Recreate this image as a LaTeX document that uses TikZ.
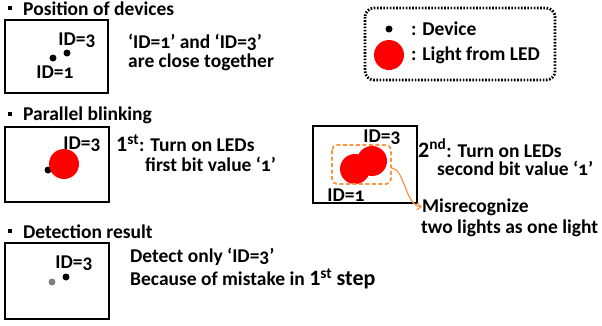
\documentclass[tikz,border=0pt]{standalone}
\usepackage{fontspec}
\setmainfont{Carlito}[Numbers=OldStyle]
\newfontfamily\linfont{Carlito}[Numbers=Lining]
\usetikzlibrary{arrows.meta}

\tikzset{
  devbox/.style={draw,line width=2.8pt},
  dev/.style={circle,fill=black,inner sep=0pt,minimum size=7pt},
  ghostdev/.style={circle,fill=gray,inner sep=0pt,minimum size=7pt},
  ledlight/.style={circle,fill=red,inner sep=0pt,minimum size=30pt},
  txt/.style={anchor=west,inner sep=0pt},
  idlabel/.style={inner sep=0pt},
}
\newcommand{\ordn}[2]{{\linfont\fontsize{22}{24}\selectfont #1\textsuperscript{#2}}}

\begin{document}
\begin{tikzpicture}[x=1pt,y=-1pt,font=\bfseries\fontsize{19.5}{22}\selectfont]
\definecolor{misorange}{RGB}{247,150,70}
\useasboundingbox (0,0) rectangle (602,325);

% position of devices
\fill (8,6) rectangle (12,10);
\node[txt] (title1) at (23,9) {Position of devices};
\draw[devbox] (5,20) rectangle (108,93);
\node[dev] (d1) at (53,58) {};
\node[dev] (d3) at (67,53) {};
\node[idlabel] (l3) at (77,40) {ID=3};
\node[idlabel] (l1) at (55,72) {ID=1};
\node[txt] (close1) at (128,42) {‘ID=1’ and ‘ID=3’};
\node[txt] (close2) at (128,62) {are close together};

% legend
\draw[line width=2.8pt,dash pattern=on 1.6pt off 1.6pt,rounded corners=9pt] (365,8) rectangle (555,80);
\node[dev] (legdev) at (389,29) {};
\node[ledlight] (leglight) at (389,55) {};
\node[txt] (legdevtxt) at (411,29) {: Device};
\node[txt] (leglighttxt) at (411,55) {: Light from LED};

% parallel blinking
\fill (8,112) rectangle (12,116);
\node[txt] (title2) at (23,115) {Parallel blinking};
\draw[devbox] (5,127) rectangle (109,202);
\node[dev] (b1) at (48,170) {};
\node[ledlight] (bl3) at (64,164) {};
\node[idlabel] (bl3txt) at (82,144) {ID=3};
\node[txt] (step1a) at (116,143) {\ordn{1}{st}: Turn on LEDs};
\node[txt] (step1b) at (145,164) {first bit value ‘1’};

\draw[devbox] (313,126) rectangle (417,203);
\node[ledlight] (c1) at (355,169) {};
\node[ledlight] (c3) at (372,161) {};
\node[idlabel] (c3txt) at (382,137) {ID=3};
\node[idlabel] (c1txt) at (346,195) {ID=1};
\draw[misorange,line width=1.8pt,dash pattern=on 4pt off 2.5pt,rounded corners=5pt] (332,145) rectangle (391,184);
\coordinate (blob) at (392,168);
\node[txt] (step2a) at (418,148) {\ordn{2}{nd}: Turn on LEDs};
\node[txt] (step2b) at (437,168) {second bit value ‘1’};
\node[txt] (mis1) at (422,207) {Misrecognize};
\node[txt] (mis2) at (421,228) {two lights as one light};
\draw[misorange,line width=1.2pt,-{Straight Barb[length=4pt,width=7pt]}] (blob) .. controls (405,170) and (405,205) .. (mis1.west);

% detection result
\fill (8,229) rectangle (12,233);
\node[txt] (title3) at (23,232) {Detection result};
\draw[devbox] (5,243) rectangle (109,319);
\node[ghostdev] (r1) at (52,282) {};
\node[dev] (r3) at (66,277) {};
\node[idlabel] (r3txt) at (74,263) {ID=3};
\node[txt] (res1) at (130,257) {Detect only ‘ID=3’};
\node[txt] (res2) at (130,279) {Because of mistake in \ordn{1}{st} {\fontsize{22}{24}\selectfont step}};
\end{tikzpicture}
\end{document}
